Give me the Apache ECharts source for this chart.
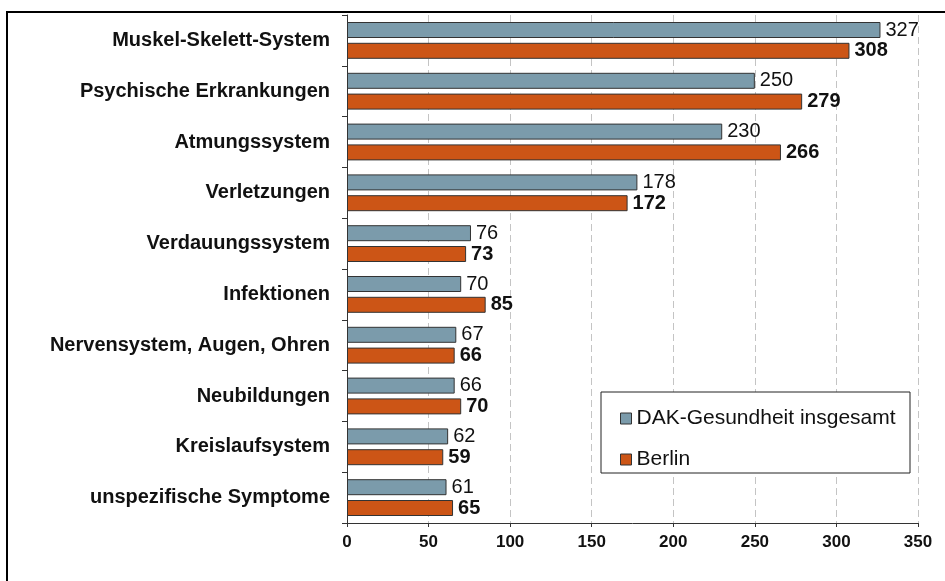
<!DOCTYPE html>
<html>
<head>
<meta charset="utf-8">
<script src="https://cdn.jsdelivr.net/npm/echarts@6/dist/echarts.min.js"></script>
<style>
    html, body { margin: 0; padding: 0; background: #fff; }
    #chart { width: 945px; height: 581px; }
</style>
</head>
<body>
<div id="chart"></div>
<script>
var categories = ['Muskel-Skelett-System', 'Psychische Erkrankungen', 'Atmungssystem', 'Verletzungen',
    'Verdauungssystem', 'Infektionen', 'Nervensystem, Augen, Ohren', 'Neubildungen',
    'Kreislaufsystem', 'unspezifische Symptome'];
var dakValues = [327, 250, 230, 178, 76, 70, 67, 66, 62, 61];
var berlinValues = [308, 279, 266, 172, 73, 85, 66, 70, 59, 65];
var xTicks = [0, 50, 100, 150, 200, 250, 300, 350];

var font = 'Liberation Sans, Arial, sans-serif';
var chart = echarts.init(document.getElementById('chart'));

var option = {
    animation: false,
    backgroundColor: '#fff',
    grid: { left: 347, right: 27, top: 15, bottom: 58, containLabel: false },
    graphic: [
        {
            // outer frame, cut off at right and bottom
            type: 'rect',
            shape: { x: 7, y: 12, width: 980, height: 620 },
            style: { fill: null, stroke: '#000', lineWidth: 2 },
            silent: true
        },
        {
            // legend box
            type: 'rect',
            shape: { x: 601, y: 392, width: 309, height: 81 },
            style: { fill: '#fff', stroke: '#222', lineWidth: 1 },
            z: 10,
            silent: true
        }
    ],
    legend: {
        orient: 'vertical',
        left: 615,
        top: 403,
        z: 11,
        itemWidth: 11,
        itemHeight: 11,
        itemGap: 20,
        icon: 'rect',
        itemStyle: { borderColor: '#333', borderWidth: 1 },
        textStyle: { fontFamily: font, fontSize: 21, lineHeight: 20, color: '#111' },
        data: ['DAK-Gesundheit insgesamt', 'Berlin']
    },
    xAxis: {
        type: 'value',
        min: xTicks[0],
        max: xTicks[xTicks.length - 1],
        interval: 50,
        axisLine: { show: true, lineStyle: { color: '#333', width: 1 } },
        axisTick: { show: true, length: 4, lineStyle: { color: '#333' } },
        axisLabel: { margin: 11, fontFamily: font, fontSize: 17, fontWeight: 'bold', color: '#111' },
        splitLine: { show: true, lineStyle: { color: '#c4c4c4', type: [7, 4], width: 1 } }
    },
    yAxis: {
        type: 'category',
        inverse: true,
        data: categories,
        axisLine: { show: true, lineStyle: { color: '#333', width: 1 } },
        axisTick: { show: true, length: 5, lineStyle: { color: '#333' } },
        axisLabel: { margin: 17, fontFamily: font, fontSize: 20, fontWeight: 'bold', color: '#111' }
    },
    series: [
        {
            name: 'DAK-Gesundheit insgesamt',
            type: 'bar',
            data: dakValues,
            barWidth: 16,
            barGap: '30%',
            itemStyle: { color: '#7b9bab', borderColor: '#333', borderWidth: 1 },
            label: {
                show: true, position: 'right', distance: 5,
                fontFamily: font, fontSize: 20, color: '#111'
            }
        },
        {
            name: 'Berlin',
            type: 'bar',
            data: berlinValues,
            barWidth: 16,
            itemStyle: { color: '#cc5516', borderColor: '#333', borderWidth: 1 },
            label: {
                show: true, position: 'right', distance: 5,
                fontFamily: font, fontSize: 20, fontWeight: 'bold', color: '#111'
            }
        }
    ]
};

chart.setOption(option);
</script>
</body>
</html>
